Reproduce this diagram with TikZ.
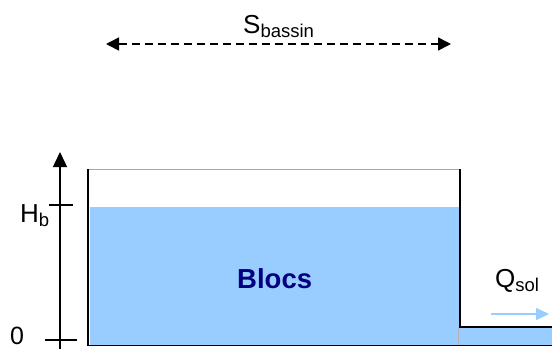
\documentclass[tikz,border=0pt]{standalone}
\usepackage{fontspec}
\setmainfont{Liberation Sans}
\usetikzlibrary{arrows.meta}
\definecolor{waterblue}{HTML}{99CCFF}
\definecolor{navy}{HTML}{000080}
\tikzset{
  wall/.style={line width=1.6pt, black},
  water/.style={fill=waterblue},
  lbl/.style={inner sep=0pt, anchor=base west, font=\fontsize{26}{26}\selectfont},
  tick/.style={line width=1.4pt},
}
\newcommand{\lowsub}[1]{\raisebox{-4pt}{\fontsize{18.5}{18.5}\selectfont #1}}
\begin{document}
\begin{tikzpicture}[x=1pt,y=-1pt]
\useasboundingbox (0,0) rectangle (552,349);
% water
\fill[water] (90,207) rectangle (459,345);
\fill[water] (459,327) rectangle (552,345);
\draw[gray!60, line width=0.6pt] (458.5,327) -- (458.5,345);
% tank
\draw[gray!70, line width=0.8pt] (88,169) -- (460,169);
\draw[wall] (88,169) -- (88,345.5) -- (552,345.5);
\draw[wall] (460,169) -- (460,327) -- (552,327);
% axis
\coordinate (axbot) at (60,349);
\coordinate (axtop) at (60,152);
\draw[line width=1.4pt, -{Triangle[length=15pt,width=14pt]}] (axbot) -- (axtop);
\draw[tick] (49,205) -- (73,205);
\draw[tick] (45,340) -- (77,340);
\node[lbl] (hb) at (20,222) {H\lowsub{b}};
\node[lbl, font=\fontsize{25}{25}\selectfont] (zero) at (10,344.5) {0};
% surface arrow
\coordinate (sl) at (106,44);
\coordinate (sr) at (451,44);
\draw[line width=1.6pt, dash pattern=on 8pt off 5pt, {Triangle[length=13pt,width=13pt]}-{Triangle[length=13pt,width=13pt]}] (sl) -- (sr);
\node[lbl] (sb) at (243,33) {S\lowsub{bassin}};
% label
\node[lbl, font=\fontsize{27.5}{27.5}\selectfont\bfseries, text=navy] (blocs) at (237,288) {Blocs};
% outflow
\node[lbl] (qs) at (495,287) {Q\lowsub{sol}};
\coordinate (ql) at (491,314);
\coordinate (qr) at (549,314);
\draw[waterblue, line width=1.6pt, -{Triangle[length=13pt,width=12pt]}] (ql) -- (qr);
\end{tikzpicture}
\end{document}
